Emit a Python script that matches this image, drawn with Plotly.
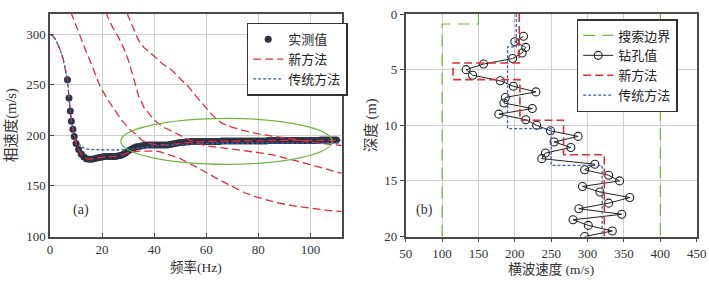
import plotly.graph_objects as go

# ---------------- Panel (a): dispersion curves ----------------
meas_f = [6.7, 7.3, 7.8, 8.2, 8.8, 9.3,
          10, 11, 12, 13, 14, 15, 16, 17, 18, 19, 20, 21, 22, 23, 24, 25, 26, 27, 28, 29,
          30, 31, 32, 33, 34, 35, 36, 37, 38, 39, 40, 41, 42, 43, 44, 45, 46, 47, 48, 49,
          50, 51, 52, 53, 54, 55, 56, 57, 58, 59, 60, 61, 62, 63, 64, 65, 66, 67, 68, 69,
          70, 71, 72, 73, 74, 75, 76, 77, 78, 79, 80, 81, 82, 83, 84, 85, 86, 87, 88, 89,
          90, 91, 92, 93, 94, 95, 96, 97, 98, 99, 100, 101, 102, 103, 104, 105, 106, 107, 108, 109, 110]
meas_v = [255, 237, 224, 214, 206, 199,
          192, 186, 181.5, 178.5, 177, 176.5, 176.5, 177, 177.5, 178, 178.5, 179, 179, 179, 179, 179, 179.5, 180, 181, 182.5,
          184.5, 186, 187.5, 188.5, 189, 189.5, 190, 190.5, 190.5, 190.5, 190.5, 190.5, 190.5, 190.5, 190.5, 190.5, 191, 191.5, 192, 192.5,
          193, 193, 193.5, 193.5, 194, 194, 194, 194, 194, 194, 194, 194, 194, 194, 194, 194, 194.5, 194.5, 194.5, 194.5,
          194.5, 194.5, 194.5, 194.5, 194.5, 194.5, 194.5, 194.5, 194.5, 194.5, 194.5, 194.5, 194.5, 194.5, 195, 195, 195, 195, 195, 195,
          195, 195, 195, 195, 195, 195, 195, 195, 195, 195, 195, 195, 195, 195, 195.5, 195.5, 195.5, 195.5, 195.5, 195.5, 195.5]

new0_f = [0, 1, 2, 3, 4, 5, 6, 6.7, 7.3, 7.8, 8.2, 8.8, 9.3, 10, 11, 12, 13, 14, 15, 16, 17, 18, 20, 22, 24, 26, 28, 29,
          30, 32, 35, 40, 42, 45, 50, 56, 61.5, 65, 70, 75, 80, 87, 93, 100, 106, 112]
new0_v = [300, 298.5, 295.5, 290.5, 284, 276, 265, 255, 237, 224, 214, 206, 199, 192, 186, 181.5, 178.5, 177, 176.5, 176.5, 177, 177.5, 178.5, 179, 179, 179.5, 181, 182,
          183, 184, 184.5, 184.5, 184, 181.5, 177, 169, 161, 156, 149.5, 143, 138.5, 133.5, 130.5, 128, 126, 124.5]

new1_f = [8, 9, 10, 11, 12, 13, 14, 15, 16, 17, 18, 19, 20, 21, 22, 23, 24, 25, 26, 27, 28, 29, 30, 31, 32, 33, 34, 35, 36,
          38, 40, 45, 50, 55, 60, 70, 80, 90, 100, 112]
new1_v = [322, 315, 308, 301, 295, 289, 282, 276, 269, 263, 256, 250, 245, 240, 236, 232, 228, 224, 220, 217, 213.5, 210.5, 207.5, 205, 203, 201, 198.5, 196, 194,
          192, 191, 190.5, 192, 193.5, 194, 194.5, 194.5, 195, 195, 195]

new2_f = [21.5, 22, 24, 26.3, 28, 30, 31.5, 32.7, 34, 36, 38, 40, 42, 44, 47, 50, 53, 56, 60, 65, 70, 75, 80, 85, 90, 95, 100, 106, 112]
new2_v = [322, 318, 307, 297, 288, 275, 262, 250, 239, 228, 221, 215, 211, 207.5, 204, 200, 196, 193, 189.5, 188, 186.5, 185, 183, 181, 178, 174.5, 171, 167, 162.5]

new3_f = [29.7, 30, 32, 34, 36, 38, 40.4, 43, 46.8, 50, 53.2, 56, 59.6, 62, 64, 66, 70, 74, 80, 87, 95, 100, 106, 112]
new3_v = [321, 318, 306, 294, 287, 283, 277.5, 271, 264.5, 256, 248, 239, 228, 221, 216, 212, 208, 205, 201.5, 198.5, 195, 193.5, 191.5, 190]

trad_f = [0, 1, 2, 3, 4, 5, 6, 6.7, 7.3, 7.8, 8.2, 8.8, 9.3, 10, 11, 12, 13, 14, 16, 20, 25, 30, 33, 36, 40, 50, 60, 80, 100, 112]
trad_v = [300, 298.5, 295.5, 290.5, 284, 276, 265, 255, 237, 224, 214, 206, 200, 196, 192, 189, 187.5, 186.5, 186, 185.5, 185.5, 186, 187, 188.5, 189.5, 191, 192, 192.5, 192.5, 192.5]

# ---------------- Panel (b): shear-wave velocity profile ----------------
bore_depth = [2.0, 2.5, 3.0, 3.5, 4.0, 4.5, 5.0, 5.5, 6.0, 6.5, 7.0, 7.5, 8.0, 8.5, 9.0, 9.5, 10.0, 10.5, 11.0,
              11.5, 12.0, 12.5, 13.0, 13.5, 14.0, 14.5, 15.0, 15.5, 16.0, 16.5, 17.0, 17.5, 18.0, 18.5, 19.0, 19.5, 20.0]
bore_vs = [212, 200, 215, 210, 197, 157, 133, 142, 180, 198, 229, 187, 185, 224, 178, 215, 230, 249, 287,
           254, 277, 242, 237, 310, 296, 329, 344, 293, 317, 358, 329, 288, 347, 280, 301, 334, 296]

new_layer_vs = [206, 115, 207, 267, 323]
new_layer_top = [0, 4.4, 5.9, 9.55, 12.65]
new_layer_bot = [4.4, 5.9, 9.55, 12.65, 20]

trad_layer_vs = [202, 190, 250, 320]
trad_layer_top = [0, 2.95, 10.3, 13.6]
trad_layer_bot = [2.95, 10.3, 13.6, 20]

bound_low_vs = [150, 150, 100, 100]
bound_low_d = [0, 0.9, 0.9, 20]
bound_high_vs = [400, 400]
bound_high_d = [0, 20]


def step_path(vs, top, bot):
    xs, ys = [], []
    for v, t, b in zip(vs, top, bot):
        xs += [v, v]
        ys += [t, b]
    return xs, ys


RED = "#dc2f3c"
BLUE = "#3b5ca8"
GREEN = "#72b545"
DARK = "#2e3240"
SERIF = "Liberation Serif, Noto Sans CJK SC"
CJK = "Liberation Serif, Noto Sans CJK SC"

fig = go.Figure()

# panel a traces
fig.add_trace(go.Scatter(x=meas_f, y=meas_v, mode="markers", name="实测值",
                         marker=dict(color=DARK, size=7), xaxis="x", yaxis="y", legend="legend"))
for i, (fx, vy) in enumerate([(new0_f, new0_v), (new1_f, new1_v), (new2_f, new2_v), (new3_f, new3_v)]):
    fig.add_trace(go.Scatter(x=fx, y=vy, mode="lines", name="新方法", showlegend=(i == 0),
                             line=dict(color=RED, width=1.3, dash="8px,4px"),
                             xaxis="x", yaxis="y", legend="legend"))
fig.add_trace(go.Scatter(x=trad_f, y=trad_v, mode="lines", name="传统方法",
                         line=dict(color=BLUE, width=1.3, dash="3px,2px"),
                         xaxis="x", yaxis="y", legend="legend"))

# panel b traces
fig.add_trace(go.Scatter(x=bound_low_vs, y=bound_low_d, mode="lines", name="搜索边界",
                         line=dict(color=GREEN, width=1.2, dash="12px,7px"),
                         xaxis="x2", yaxis="y2", legend="legend2"))
fig.add_trace(go.Scatter(x=bound_high_vs, y=bound_high_d, mode="lines", name="搜索边界", showlegend=False,
                         line=dict(color=GREEN, width=1.2, dash="12px,7px"),
                         xaxis="x2", yaxis="y2", legend="legend2"))
fig.add_trace(go.Scatter(x=bore_vs, y=bore_depth, mode="lines+markers", name="钻孔值",
                         line=dict(color="#222222", width=1),
                         marker=dict(symbol="circle-open", size=8, color="#222222", line=dict(width=1.1)),
                         xaxis="x2", yaxis="y2", legend="legend2"))
tx, ty = step_path(trad_layer_vs, trad_layer_top, trad_layer_bot)
nx, ny = step_path(new_layer_vs, new_layer_top, new_layer_bot)
fig.add_trace(go.Scatter(x=nx, y=ny, mode="lines", name="新方法",
                         line=dict(color=RED, width=1.6, dash="8px,4px"),
                         xaxis="x2", yaxis="y2", legend="legend2"))
fig.add_trace(go.Scatter(x=tx, y=ty, mode="lines", name="传统方法",
                         line=dict(color=BLUE, width=1.3, dash="3px,2px"),
                         xaxis="x2", yaxis="y2", legend="legend2"))

axis_common = dict(showline=True, linecolor="#4a4a4a", linewidth=1.5, mirror=True,
                   showgrid=True, gridcolor="#cfcfcf", gridwidth=1, zeroline=False,
                   tickfont=dict(family=SERIF, size=13, color="#333333"),
                   ticklen=4, tickcolor="#4a4a4a", automargin=False)

fig.update_layout(
    width=709, height=281,
    margin=dict(l=0, r=0, t=0, b=0, autoexpand=False),
    paper_bgcolor="white", plot_bgcolor="white",
    xaxis=dict(domain=[50 / 709, 341.7 / 709], range=[0, 112], tickvals=[0, 20, 40, 60, 80, 100],
               ticks="inside", anchor="y",
               title=dict(text="频率(Hz)", font=dict(family=CJK, size=13.5, color="#333333"), standoff=7),
               **axis_common),
    yaxis=dict(domain=[1 - 236.5 / 281, 1 - 14 / 281], range=[100, 320], tickvals=[100, 150, 200, 250, 300],
               ticks="inside", anchor="x",
               title=dict(text="相速度(m/s)", font=dict(family=CJK, size=14.5, color="#333333"), standoff=6),
               **axis_common),
    xaxis2=dict(domain=[405.7 / 709, 696.7 / 709], range=[50, 450],
                tickvals=[50, 100, 150, 200, 250, 300, 350, 400, 450],
                ticks="outside", anchor="y2",
                title=dict(text="横波速度 (m/s)", font=dict(family=CJK, size=13.5, color="#333333"), standoff=5),
                **axis_common),
    yaxis2=dict(domain=[1 - 236.5 / 281, 1 - 14 / 281], range=[20, 0], tickvals=[0, 5, 10, 15, 20],
                ticks="outside", anchor="x2",
                title=dict(text="深度 (m)", font=dict(family=CJK, size=14.5, color="#333333"), standoff=4),
                **axis_common),
    legend=dict(x=246.7 / 709, y=1 - 22.7 / 281, xanchor="left", yanchor="top",
                bgcolor="white", bordercolor="#333333", borderwidth=1.5,
                font=dict(family=CJK, size=13, color="#222222"), tracegroupgap=0,
                itemwidth=30),
    legend2=dict(x=576.7 / 709, y=1 - 19 / 281, xanchor="left", yanchor="top",
                 bgcolor="white", bordercolor="#333333", borderwidth=1.5,
                 font=dict(family=CJK, size=13, color="#222222"), tracegroupgap=0,
                 itemwidth=30),
    showlegend=True,
)

fig.add_shape(type="circle", xref="x", yref="y", x0=27.2, x1=108.3, y0=171.4, y1=216.8,
              line=dict(color=GREEN, width=1.2), layer="above")

fig.add_annotation(text="(a)", xref="paper", yref="paper", x=71 / 709, y=1 - 220 / 281,
                   showarrow=False, font=dict(family=SERIF, size=14, color="#333333"))
fig.add_annotation(text="(b)", xref="paper", yref="paper", x=425 / 709, y=1 - 220 / 281,
                   showarrow=False, font=dict(family=SERIF, size=14, color="#333333"))

fig.write_html("out.html", config={"displayModeBar": False},
               post_script="document.body.style.margin='0';document.body.style.overflow='hidden';")
